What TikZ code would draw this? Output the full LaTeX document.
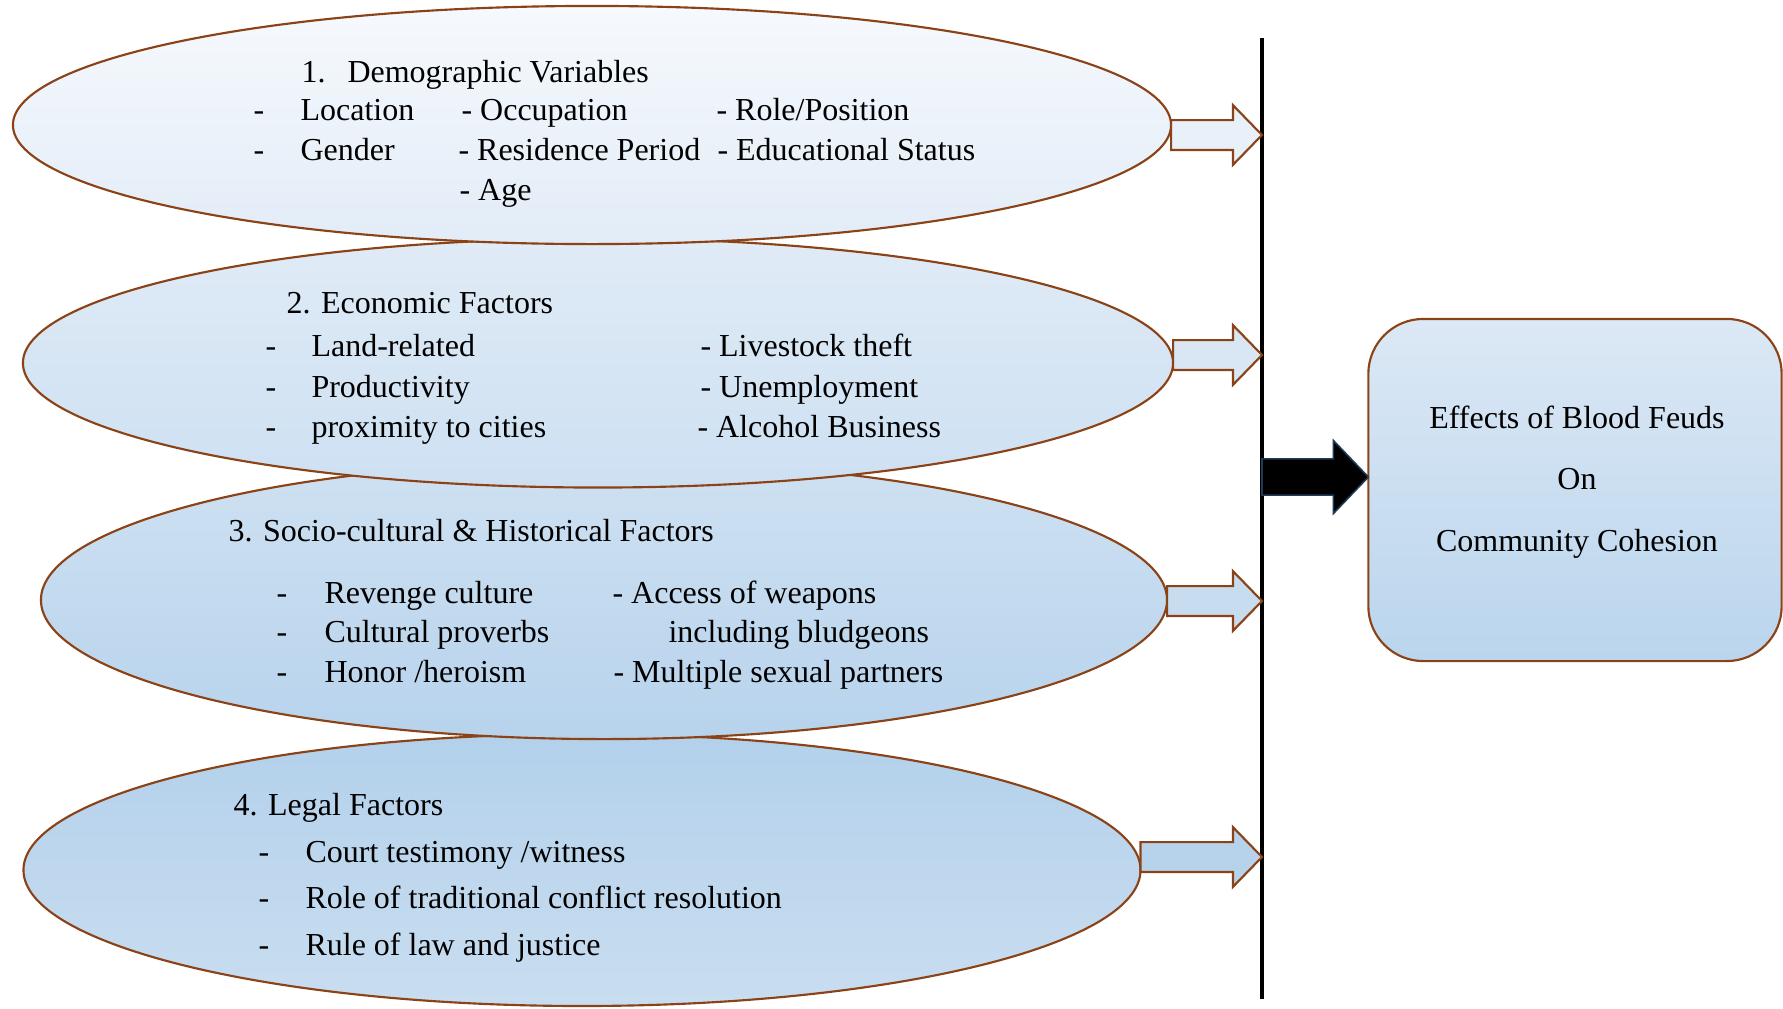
\documentclass[tikz,border=0pt]{standalone}
\usepackage{fontspec}
\setmainfont{Liberation Serif}
\usetikzlibrary{shapes.geometric}

\definecolor{feudbrown}{HTML}{8A4216}
\definecolor{ellAtop}{HTML}{F6F9FD}
\definecolor{ellAbot}{HTML}{E2ECF7}
\definecolor{ellBtop}{HTML}{E0EBF6}
\definecolor{ellBbot}{HTML}{CDE0F2}
\definecolor{ellCtop}{HTML}{CFE1F2}
\definecolor{ellCbot}{HTML}{B7D3EC}
\definecolor{ellDtop}{HTML}{B3D1EB}
\definecolor{ellDbot}{HTML}{C9DDF0}
\definecolor{boxtop}{HTML}{DCE8F5}
\definecolor{boxbot}{HTML}{BAD5ED}
\definecolor{arrA}{HTML}{E8F0F9}
\definecolor{arrB}{HTML}{D9E6F4}
\definecolor{arrC}{HTML}{C8DCEF}
\definecolor{arrD}{HTML}{B7D3EC}
\definecolor{navyline}{HTML}{1F3A55}

\begin{document}
\begin{tikzpicture}[x=0.375pt,y=-0.375pt,
  factor/.style={ellipse, draw=feudbrown, line width=0.8pt, inner sep=0pt, outer sep=0pt},
  txt/.style={anchor=base west, inner sep=0pt, font=\fontsize{12pt}{14pt}\selectfont},
  hollow/.style={draw=feudbrown, line width=0.8pt, line join=miter}]
\useasboundingbox (0,0) rectangle (1783,1008);

% the four factor ellipses, lowest first
\node[factor, minimum width=418.9pt, minimum height=102pt, top color=ellDtop, bottom color=ellDbot] (legal) at (582,870) {};
\node[factor, minimum width=422.3pt, minimum height=104.3pt, top color=ellCtop, bottom color=ellCbot] (socio) at (604,600) {};
\node[factor, minimum width=431.3pt, minimum height=93.4pt, top color=ellBtop, bottom color=ellBbot] (econ) at (598,363) {};
\node[factor, minimum width=434.3pt, minimum height=89.3pt, top color=ellAtop, bottom color=ellAbot] (demo) at (592,125) {};

% outcome box
\node[draw=feudbrown, line width=0.8pt, rounded corners=20.6pt, minimum width=155pt, minimum height=128.3pt,
      inner sep=0pt, outer sep=0pt, top color=boxtop, bottom color=boxbot] (effects) at (1575,490) {};

% the vertical bar
\coordinate (lineTop) at (1262,38);
\coordinate (lineBot) at (1262,999);
\draw[line width=1.5pt] (lineTop) -- (lineBot);

% hollow arrows from each ellipse to the bar
\foreach \i/\src/\yc/\col in {1/demo/135/arrA, 2/econ/355/arrB, 3/socio/601/arrC, 4/legal/857/arrD} {
  \coordinate (tail\i) at (\src.east |- 0,\yc);
  \coordinate (tip\i) at (lineTop |- 0,\yc);
  \draw[hollow, fill=\col] ([yshift=5.6pt]tail\i) -- ([xshift=-10.9pt,yshift=5.6pt]tip\i)
    -- ([xshift=-10.9pt,yshift=11.2pt]tip\i) -- (tip\i) -- ([xshift=-10.9pt,yshift=-11.2pt]tip\i)
    -- ([xshift=-10.9pt,yshift=-5.6pt]tip\i) -- ([yshift=-5.6pt]tail\i) -- cycle;
}

% black arrow into the box
\coordinate (mainTail) at (lineTop |- 0,477);
\coordinate (mainTip) at (effects.west |- 0,477);
\draw[fill=black, draw=navyline, line width=0.6pt, line join=miter] ([yshift=6.8pt]mainTail)
  -- ([xshift=-13.1pt,yshift=6.8pt]mainTip) -- ([xshift=-13.1pt,yshift=13.7pt]mainTip) -- (mainTip)
  -- ([xshift=-13.1pt,yshift=-13.7pt]mainTip) -- ([xshift=-13.1pt,yshift=-6.8pt]mainTip)
  -- ([yshift=-6.8pt]mainTail) -- cycle;

% texts
\foreach \x/\y/\t [count=\k] in {301/82/1., 347/82/{Demographic Variables},
    253/120/-, 300/120/Location, 461/120/{- Occupation}, 716/120/{- Role/Position},
    253/160/-, 300/160/Gender, 458/160/{- Residence Period}, 717/160/{- Educational Status},
    459/200/{- Age}}
  \node[txt] (dem\k) at (\x,\y) {\t};

\foreach \x/\y/\t [count=\k] in {286/313/{2. Economic Factors},
    265/356/-, 311/356/Land-related, 700/356/{- Livestock theft},
    265/397/-, 311/397/Productivity, 700/397/{- Unemployment},
    265/437/-, 311/437/{proximity to cities}, 697/437/{- Alcohol Business}}
  \node[txt] (eco\k) at (\x,\y) {\t};

\foreach \x/\y/\t [count=\k] in {228/541/{3. Socio-cultural \& Historical Factors},
    276/603/-, 324/603/{Revenge culture}, 612/603/{- Access of weapons},
    276/642/-, 324/642/{Cultural proverbs}, 668/642/{including bludgeons},
    276/682/-, 324/682/{Honor /heroism}, 613/682/{- Multiple sexual partners}}
  \node[txt] (soc\k) at (\x,\y) {\t};

\foreach \x/\y/\t [count=\k] in {233/815/{4. Legal Factors},
    258/862/-, 305/862/{Court testimony /witness},
    258/908/-, 305/908/{Role of traditional conflict resolution},
    258/955/-, 305/955/{Rule of law and justice}}
  \node[txt] (leg\k) at (\x,\y) {\t};

\node[txt, anchor=base] (effA) at (1577,428) {Effects of Blood Feuds};
\node[txt, anchor=base] (effB) at (1577,489) {On};
\node[txt, anchor=base] (effC) at (1577,551) {Community Cohesion};
\end{tikzpicture}
\end{document}
